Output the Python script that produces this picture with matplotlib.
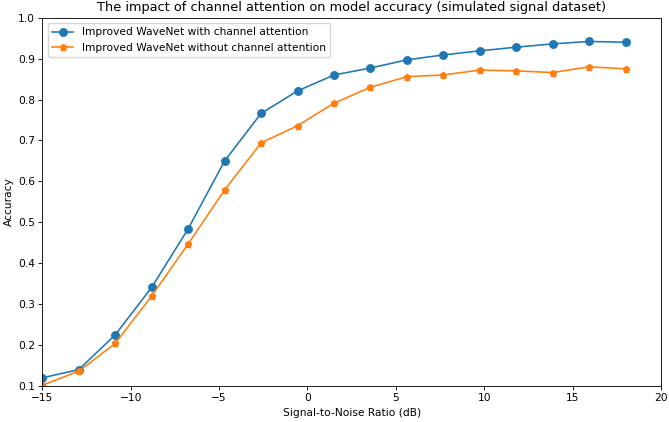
import numpy as np
import matplotlib
matplotlib.use("Agg")
import matplotlib.pyplot as plt

snr = np.linspace(-15, 18, 17)
acc_with = [0.120, 0.140, 0.225, 0.341, 0.484, 0.650, 0.766, 0.821, 0.860, 0.877,
            0.897, 0.909, 0.919, 0.928, 0.936, 0.942, 0.940]
acc_without = [0.102, 0.136, 0.204, 0.320, 0.447, 0.579, 0.694, 0.736, 0.791, 0.830,
               0.856, 0.860, 0.872, 0.870, 0.866, 0.880, 0.875]

s = 0.77
fig = plt.figure(figsize=(6.69, 4.22), dpi=100)
ax = fig.add_axes([42.3/669, 1-386/422, (661-42.3)/669, (386-17.7)/422])
ax.plot(snr, acc_with, marker='o', color='#1f77b4', lw=1.5*s, ms=7*s,
        label='Improved WaveNet with channel attention')
ax.plot(snr, acc_without, marker='p', color='#ff7f0e', lw=1.5*s, ms=6.5*s,
        label='Improved WaveNet without channel attention')
ax.set_xlim(-15, 20)
ax.set_ylim(0.1, 1.0)
ax.set_xlabel('Signal-to-Noise Ratio (dB)', fontsize=10*s, labelpad=4*s)
ax.set_ylabel('Accuracy', fontsize=10*s, labelpad=4*s)
ax.set_title('The impact of channel attention on model accuracy (simulated signal dataset)',
             fontsize=12*s, pad=6*s)
ax.tick_params(labelsize=10*s, width=0.8*s, length=3.5*s, pad=3.5*s)
for sp in ax.spines.values():
    sp.set_linewidth(0.8*s)
ax.legend(loc='upper left', fontsize=10*s, borderpad=0.4, handlelength=2.0)
fig.savefig('out.png', dpi=100)
